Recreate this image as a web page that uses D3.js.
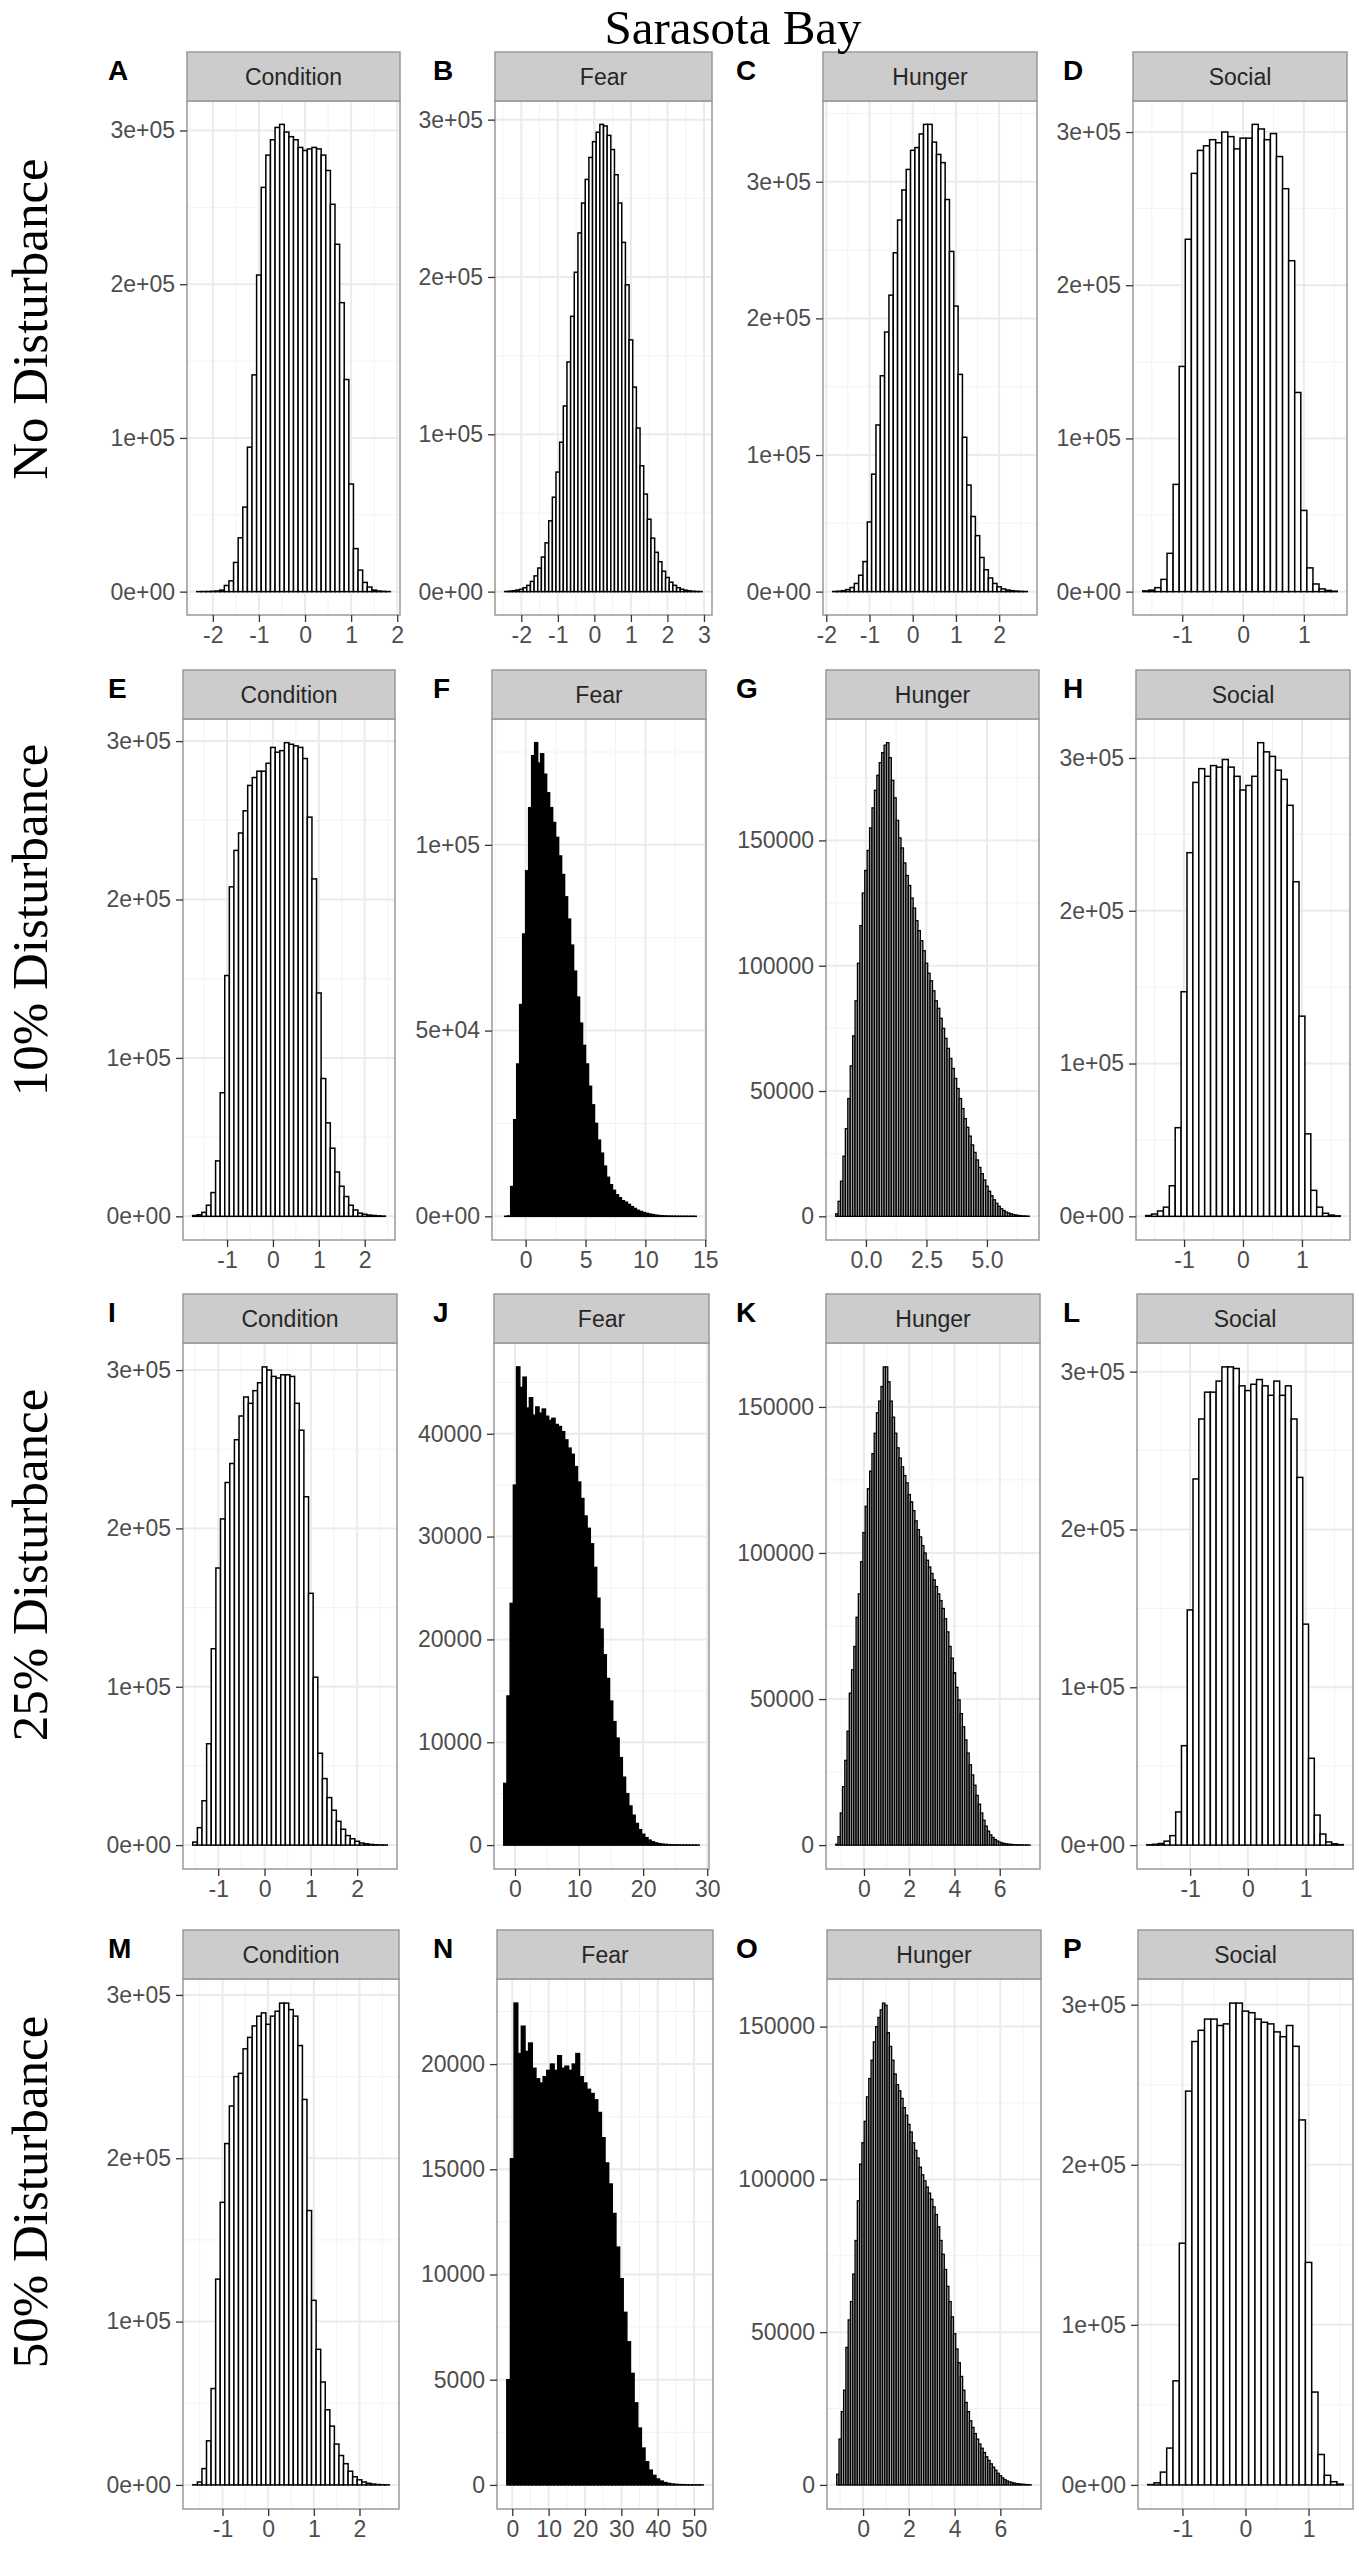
<!DOCTYPE html>
<html>
<head>
<meta charset="utf-8">
<script src="https://cdn.jsdelivr.net/npm/d3@7"></script>
<style>
  body { margin: 0; background: #fff; }
</style>
</head>
<body>
<div id="chart"></div>
<script>
// histogram counts, one array per panel (A..P)
var panelLetters = ['A','B','C','D','E','F','G','H','I','J','K','L','M','N','O','P'];
var variables = ['Condition', 'Fear', 'Hunger', 'Social'];
var scenarios = ['No Disturbance', '10% Disturbance', '25% Disturbance', '50% Disturbance'];

// left edge of first bin, and bin width
var binStart = [-2.35, -2.45, -1.85, -1.65, -1.75, -2.0, -1.25, -1.65, -1.55, -1.75, -1.25, -1.75, -1.65, -1.5, -1.15, -1.55];
var binWidth = [0.1, 0.1, 0.1, 0.1, 0.1, 0.25, 0.1, 0.1, 0.1, 0.5, 0.1, 0.1, 0.1, 1, 0.1, 0.1];

var countsA = [20, 50, 100, 200, 400, 1000, 4000, 7000, 19000, 35000, 55000, 94000, 141000, 206000, 263000, 284000, 294000, 302000, 304000, 299000, 296000, 294000, 289000, 287000, 288000, 289000, 288000, 284000, 274000, 252000, 226000, 188000, 138000, 70000, 28000, 14000, 6000, 3000, 1000, 400, 150, 50];
var countsB = [100, 300, 600, 1000, 1500, 2500, 4000, 6500, 10000, 15000, 22000, 31000, 45000, 60000, 76000, 95000, 118000, 146000, 175000, 203000, 228000, 247000, 262000, 276000, 286000, 292000, 297000, 296000, 290000, 281000, 265000, 247000, 222000, 195000, 160000, 130000, 104000, 80000, 62000, 46000, 34000, 25000, 19000, 13000, 9000, 6000, 4000, 2500, 1500, 900, 500, 250, 120, 50];
var countsC = [100, 300, 700, 1500, 3000, 6000, 12000, 22000, 51000, 86000, 122000, 158000, 190000, 217000, 248000, 272000, 294000, 309000, 323000, 325000, 335000, 342000, 342000, 329000, 320000, 314000, 287000, 249000, 209000, 159000, 113000, 78000, 55000, 41000, 25000, 16000, 10000, 6000, 3500, 2000, 1200, 700, 400, 200, 100];
var countsD = [500, 1000, 2600, 8000, 25000, 70000, 147000, 230000, 273000, 288000, 291000, 295000, 293000, 300000, 297000, 289000, 296000, 296000, 305000, 302000, 295000, 299000, 284000, 263000, 216000, 130000, 53000, 15500, 5000, 1800, 800, 300];
var countsE = [500, 1000, 2500, 7000, 15000, 35000, 78000, 152000, 208000, 231000, 242000, 256000, 272000, 277000, 281000, 281000, 286000, 296000, 293000, 294000, 299000, 298000, 297000, 296000, 289000, 252000, 213000, 141000, 87000, 59000, 43000, 28000, 19000, 12500, 7000, 4000, 2000, 1300, 800, 500, 300, 150];
var countsF = [0, 10, 100, 8000, 26000, 41000, 57000, 76000, 93000, 110000, 124000, 127500, 122000, 124500, 119000, 114000, 110000, 106000, 102000, 97000, 92000, 86000, 80000, 73000, 66000, 59000, 52000, 46000, 41000, 35000, 30000, 25000, 20500, 17000, 13500, 10500, 8500, 7000, 5800, 5000, 4200, 3800, 3200, 2600, 2100, 1600, 1300, 1000, 800, 600, 450, 300, 200, 130, 90, 60, 40, 25, 15, 10, 6, 4, 3, 2, 1];
var countsG = [1000, 6000, 14000, 24000, 35000, 47000, 60000, 72000, 86000, 101000, 116000, 129000, 138000, 146000, 155000, 163000, 170000, 176000, 181000, 185000, 188000, 189000,
  183000, 174000, 167000, 158000, 151000, 147000, 141000, 136000, 132000, 127000, 123000, 118000, 114000, 110000, 106000, 101000, 97000, 94000, 90000, 86000, 83000, 79000, 75000, 71000, 67000, 63000, 59000, 55000, 51000, 47000, 43000, 39000, 35500, 32000, 28500, 25500, 22500, 19500, 17000, 14500, 12000, 10000, 8200, 6600, 5200, 4000, 3000, 2300, 1700, 1300, 1000, 700, 500, 350, 250, 150, 100, 50];
var countsH = [500, 1500, 3500, 6000, 20000, 58000, 147000, 238000, 284000, 293000, 288000, 295000, 294000, 299000, 294000, 288000, 279000, 282000, 288000, 310000, 304000, 301000, 292000, 286000, 269000, 219000, 131000, 54000, 17000, 6000, 2000, 800, 300];
var countsI = [1900, 11000, 28000, 64000, 124000, 175000, 206000, 229000, 241000, 256000, 271000, 283000, 279000, 287000, 292000, 302000, 300000, 296000, 295000, 297000, 297000, 296000, 279000, 262000, 220000, 159000, 106000, 58000, 42000, 30000, 22000, 15000, 10000, 6000, 4000, 2400, 1300, 800, 400, 200, 100, 50];
var countsJ = [6000, 14500, 23500, 35000, 46500, 44500, 45500, 42500, 43500, 41800, 42600, 42000, 42400, 41700, 41300, 41500, 40900, 40700, 40200, 39400, 38600, 38000, 36800, 35300, 33700, 32000, 30800, 29300, 27000, 24000, 21000, 18500, 16200, 14000, 12000, 10400, 8500, 6600, 5000, 3800, 2900, 2100, 1500, 1050, 720, 480, 320, 210, 140, 90, 60, 40, 25, 15, 10, 6, 4, 3, 2, 1, 1];
var countsK = [300, 2900, 11000, 20000, 29000, 39000, 52000, 60000, 68000, 78000, 86000, 97000, 107000, 116000, 122000, 128000, 134000, 141000, 148000, 152000, 157000, 163700,
  163700, 158600, 152000, 146500, 141000, 136000, 132500, 129500, 126500, 124000, 120000, 117500, 114500, 111000, 108000, 105500, 102500, 100000, 97500, 95200, 93000, 90800, 88500, 86000, 83700, 81000, 77500, 73000, 68000, 64000, 59000, 54000, 49700, 45000, 40500, 36000, 31500, 27500, 24000, 20500, 17000, 14000, 11000, 8500, 6500, 4800, 3500, 2600, 1900, 1400, 1000, 750, 550, 400, 300, 220, 170, 130, 100, 70, 50, 30, 20, 10];
var countsL = [200, 500, 1000, 2500, 6000, 21000, 63000, 149000, 232000, 270000, 287000, 287000, 294000, 303000, 303000, 302000, 291000, 288000, 292000, 295000, 291000, 285000, 294000, 285000, 291000, 270000, 233000, 140000, 55000, 19000, 7000, 2000, 800, 300];
var countsM = [100, 1800, 10000, 27000, 59000, 126000, 173000, 209000, 232000, 250000, 252000, 267000, 274000, 281000, 287000, 289000, 282000, 287000, 290000, 295000, 295000, 291000, 287000, 269000, 236000, 168000, 113000, 83000, 63000, 46000, 36000, 25000, 18000, 13000, 8400, 5000, 3100, 1800, 1000, 500, 250, 120, 50];
var countsN = [5000, 15500, 22900, 20500, 21800, 20600, 21000, 19800, 19300, 19100, 19400, 19700, 20000, 19700, 20400, 19800, 19900, 19700, 20000, 20500, 19400, 19100, 18800, 18600, 18300, 17700, 16500, 15300, 14300, 12900, 11300, 9800, 8200, 6800, 5300, 3900, 2700, 1750, 1100, 700, 450, 280, 180, 110, 70, 40, 25, 15, 10, 6, 4, 2, 1, 1];
var countsO = [3500, 15000, 24000, 31000, 45000, 54000, 60000, 69000, 80000, 93000, 105000, 112000, 119000, 127000, 133000, 139000, 145000, 150000, 153000, 155500, 157700,
  157000, 148000, 143500, 139000, 134500, 131000, 129000, 126500, 123500, 121000, 118000, 115500, 112000, 109500, 107000, 104000, 101500, 99500, 97500, 95500, 93500, 91000, 88500, 84500, 80000, 75500, 70500, 65000, 60000, 55000, 49500, 44500, 40000, 35500, 31000, 27000, 24000, 21000, 18800, 16800, 15000, 13400, 12000, 10600, 9200, 8000, 6900, 5800, 4800, 3800, 3000, 2300, 1700, 1300, 1000, 800, 600, 450, 350, 250, 200, 130, 80, 40];
var countsP = [200, 1300, 8000, 23000, 65000, 151000, 246000, 277000, 284000, 291000, 291000, 287000, 288000, 301000, 301000, 296000, 295000, 291000, 289000, 288000, 283000, 280000, 287000, 274000, 228000, 139000, 58000, 19000, 6000, 2000, 500];

var counts = [countsA, countsB, countsC, countsD, countsE, countsF, countsG, countsH,
              countsI, countsJ, countsK, countsL, countsM, countsN, countsO, countsP];

// tick values and their printed labels
var xTicks = [
  [-2,-1,0,1,2], [-2,-1,0,1,2,3], [-2,-1,0,1,2], [-1,0,1],
  [-1,0,1,2], [0,5,10,15], [0,2.5,5], [-1,0,1],
  [-1,0,1,2], [0,10,20,30], [0,2,4,6], [-1,0,1],
  [-1,0,1,2], [0,10,20,30,40,50], [0,2,4,6], [-1,0,1]
];
var xTickLabels = [
  ['-2','-1','0','1','2'], ['-2','-1','0','1','2','3'], ['-2','-1','0','1','2'], ['-1','0','1'],
  ['-1','0','1','2'], ['0','5','10','15'], ['0.0','2.5','5.0'], ['-1','0','1'],
  ['-1','0','1','2'], ['0','10','20','30'], ['0','2','4','6'], ['-1','0','1'],
  ['-1','0','1','2'], ['0','10','20','30','40','50'], ['0','2','4','6'], ['-1','0','1']
];
var sciTicks = [0, 100000, 200000, 300000];
var sciLabels = ['0e+00', '1e+05', '2e+05', '3e+05'];
var yTicks = [
  sciTicks, sciTicks, sciTicks, sciTicks,
  sciTicks, [0, 50000, 100000], [0, 50000, 100000, 150000], sciTicks,
  sciTicks, [0, 10000, 20000, 30000, 40000], [0, 50000, 100000, 150000], sciTicks,
  sciTicks, [0, 5000, 10000, 15000, 20000], [0, 50000, 100000, 150000], sciTicks
];
var yTickLabels = [
  sciLabels, sciLabels, sciLabels, sciLabels,
  sciLabels, ['0e+00', '5e+04', '1e+05'], ['0', '50000', '100000', '150000'], sciLabels,
  sciLabels, ['0', '10000', '20000', '30000', '40000'], ['0', '50000', '100000', '150000'], sciLabels,
  sciLabels, ['0', '5000', '10000', '15000', '20000'], ['0', '50000', '100000', '150000'], sciLabels
];

// layout (pixels)
var panelLeft  = [187, 495, 823, 1133, 183, 492, 826, 1136, 183, 494, 826, 1137, 183, 497, 827, 1138];
var panelRight = [400, 712, 1037, 1347, 395, 706, 1039, 1350, 397, 709, 1040, 1353, 399, 713, 1041, 1353];
var stripTop = [52, 670, 1294, 1930];
var stripH = 49;
var panelBottom = [615, 1240, 1869, 2509];
var letterX = [108, 433, 736, 1063];
var rowLabelY = [319, 920, 1565, 2192];

var sans = '"Liberation Sans", Arial, Helvetica, sans-serif';
var serif = '"Liberation Serif", "Times New Roman", Times, serif';

var svg = d3.select('#chart')
  .append('svg')
  .attr('width', 1359)
  .attr('height', 2550)
  .style('background', '#fff');

// minor breaks sit halfway between major ones
function minorBreaks(ticks, domain) {
  var step = ticks[1] - ticks[0];
  var out = ticks.map(function(t){ return t - step / 2; });
  out.push(ticks[ticks.length - 1] + step / 2);
  out.push(ticks[ticks.length - 1] + step * 1.5);
  return out.filter(function(v){ return v > domain[0] && v < domain[1]; });
}

panelLetters.forEach(function(letter, i) {
  var row = Math.floor(i / 4), col = i % 4;
  var x0 = panelLeft[i], x1 = panelRight[i];
  var yTop = stripTop[row] + stripH, yBot = panelBottom[row];
  var data = counts[i];
  var w = binWidth[i], s = binStart[i];

  var lo = s, hi = s + w * data.length;
  var pad = (hi - lo) * 0.05;
  var x = d3.scaleLinear().domain([lo - pad, hi + pad]).range([x0, x1]);
  var maxC = d3.max(data);
  var y = d3.scaleLinear().domain([-0.05 * maxC, 1.05 * maxC]).range([yBot, yTop]);

  var g = svg.append('g').attr('class', 'panel');

  // grid
  var xMinor = minorBreaks(xTicks[i], x.domain());
  var yMinor = minorBreaks(yTicks[i], y.domain());

  g.selectAll('line.xminor').data(xMinor).enter()
    .append('line')
    .attr('x1', function(d){ return x(d); })
    .attr('x2', function(d){ return x(d); })
    .attr('y1', yTop).attr('y2', yBot)
    .attr('stroke', '#f3f3f3').attr('stroke-width', 1);

  g.selectAll('line.yminor').data(yMinor).enter()
    .append('line')
    .attr('y1', function(d){ return y(d); })
    .attr('y2', function(d){ return y(d); })
    .attr('x1', x0).attr('x2', x1)
    .attr('stroke', '#f3f3f3').attr('stroke-width', 1);

  g.selectAll('line.xmajor').data(xTicks[i]).enter()
    .append('line')
    .attr('x1', function(d){ return x(d); })
    .attr('x2', function(d){ return x(d); })
    .attr('y1', yTop).attr('y2', yBot)
    .attr('stroke', '#ebebeb').attr('stroke-width', 2);

  g.selectAll('line.ymajor').data(yTicks[i]).enter()
    .append('line')
    .attr('y1', function(d){ return y(d); })
    .attr('y2', function(d){ return y(d); })
    .attr('x1', x0).attr('x2', x1)
    .attr('stroke', '#ebebeb').attr('stroke-width', 2);

  // bars
  var solid = (col === 1 && row > 0);
  var narrow = (col === 2 && row > 0);
  var bins = data.map(function(c, j){ return {a: s + j * w, b: s + (j + 1) * w, c: c}; });

  g.selectAll('rect.bar').data(bins).enter()
    .append('rect')
    .attr('class', 'bar')
    .attr('x', function(d){ return x(d.a); })
    .attr('width', function(d){ return x(d.b) - x(d.a); })
    .attr('y', function(d){ return y(d.c); })
    .attr('height', function(d){ return y(0) - y(d.c); })
    .attr('fill', solid ? '#000' : (narrow ? '#aaaaaa' : '#fff'))
    .attr('stroke', '#000')
    .attr('stroke-width', narrow ? 1.3 : 1.5);

  // panel border
  g.append('rect')
    .attr('x', x0).attr('y', yTop)
    .attr('width', x1 - x0).attr('height', yBot - yTop)
    .attr('fill', 'none')
    .attr('stroke', '#999')
    .attr('stroke-width', 1.5);

  // strip
  g.append('rect')
    .attr('x', x0).attr('y', stripTop[row])
    .attr('width', x1 - x0).attr('height', stripH)
    .attr('fill', '#cccccc')
    .attr('stroke', '#999')
    .attr('stroke-width', 1.5);

  g.append('text')
    .attr('x', (x0 + x1) / 2)
    .attr('y', stripTop[row] + stripH / 2)
    .attr('dy', '0.36em')
    .attr('text-anchor', 'middle')
    .attr('font-family', sans)
    .attr('font-size', 23)
    .attr('fill', '#262626')
    .text(variables[col]);

  // axes
  var gx = g.append('g')
    .attr('transform', 'translate(0,' + yBot + ')')
    .call(d3.axisBottom(x)
      .tickValues(xTicks[i])
      .tickFormat(function(d){ return xTickLabels[i][xTicks[i].indexOf(d)]; })
      .tickSize(7)
      .tickPadding(5));

  var gy = g.append('g')
    .attr('transform', 'translate(' + x0 + ',0)')
    .call(d3.axisLeft(y)
      .tickValues(yTicks[i])
      .tickFormat(function(d){ return yTickLabels[i][yTicks[i].indexOf(d)]; })
      .tickSize(7)
      .tickPadding(5));

  [gx, gy].forEach(function(ax){
    ax.select('.domain').remove();
    ax.attr('font-family', sans).attr('font-size', 23);
    ax.selectAll('line').attr('stroke', '#333').attr('stroke-width', 1.3);
    ax.selectAll('text').attr('fill', '#4d4d4d');
  });

  // panel tag
  svg.append('text')
    .attr('x', letterX[col])
    .attr('y', stripTop[row] + 28)
    .attr('font-family', sans)
    .attr('font-weight', 'bold')
    .attr('font-size', 28)
    .attr('fill', '#000')
    .text(letter);
});

// row labels
scenarios.forEach(function(label, r) {
  svg.append('text')
    .attr('x', 47)
    .attr('y', rowLabelY[r])
    .attr('transform', 'rotate(-90,47,' + rowLabelY[r] + ')')
    .attr('text-anchor', 'middle')
    .attr('font-family', serif)
    .attr('font-size', 51)
    .attr('fill', '#000')
    .text(label);
});

// title
svg.append('text')
  .attr('x', 733)
  .attr('y', 44)
  .attr('text-anchor', 'middle')
  .attr('font-family', serif)
  .attr('font-size', 49)
  .attr('fill', '#000')
  .text('Sarasota Bay');
</script>
</body>
</html>
